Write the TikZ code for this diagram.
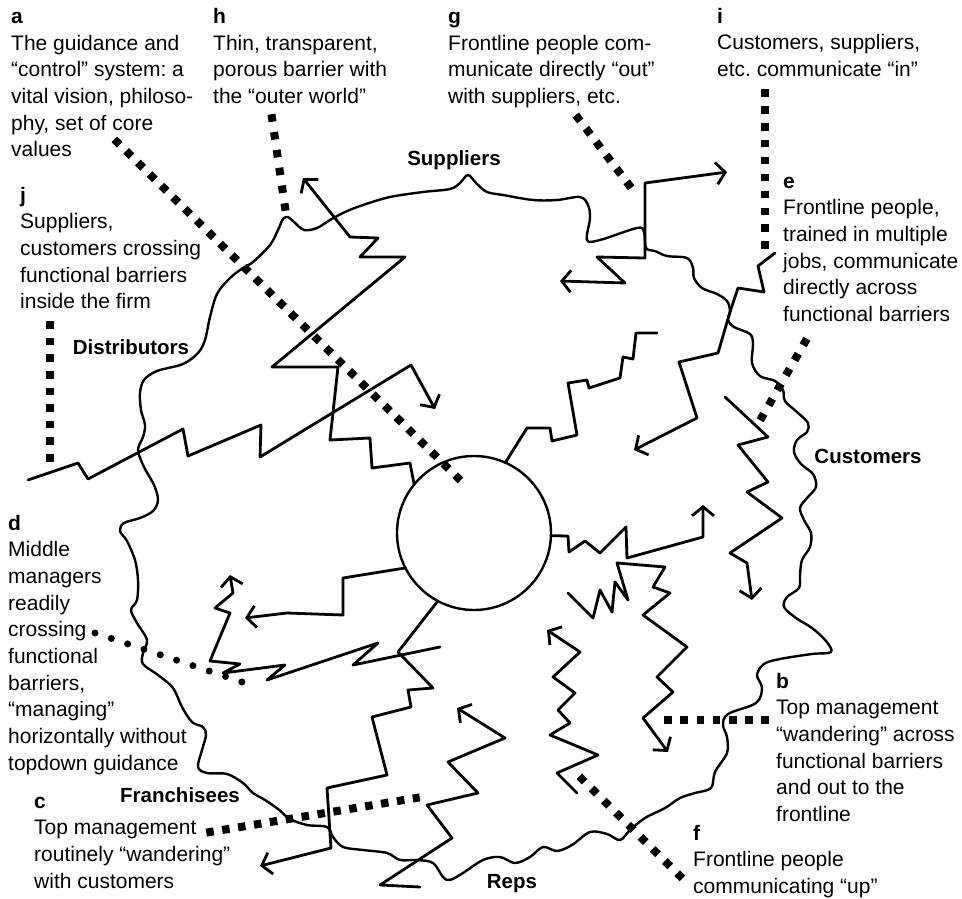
\documentclass[tikz,border=0pt]{standalone}
\usepackage{fontspec}
\setmainfont{Liberation Sans}
\usetikzlibrary{arrows.meta,calc}
\frenchspacing
% a row of square dots between two dot centres, #3 = gap between dots
\newcommand\leaderrow[3]{%
  \draw[line width=8pt, dash pattern=on 7.5pt off #3pt]
    ($(#1)!-3.75pt!(#2)$) -- ($(#2)!-3.75pt!(#1)$);}
\begin{document}
\begin{tikzpicture}[x=1pt,y=-1pt,
  wire/.style={line width=2.8pt, line join=round, line cap=round},
  tip/.style={-{Straight Barb[length=9pt,width=22pt]}},
  barrier/.style={line width=2.4pt},
  rdots/.style={line width=7pt, line cap=round, dash pattern=on 0pt off 17.2pt},
  % notes are placed by the baseline of their last line
  note/.style={anchor=base west, align=left, inner sep=0pt,
    font=\fontsize{21}{26.7}\selectfont},
  place/.style={anchor=base, inner sep=0pt,
    font=\fontsize{20.5}{24}\selectfont\bfseries}]
\useasboundingbox[fill=white] (0,0) rectangle (962,899);

% the firm's porous outer barrier
\draw[barrier] plot[smooth cycle, tension=0.55] coordinates {
 (468,175) (477,184) (487,192) (503,195) (533,200) (557,200) (580,197)
 (588,205) (590,218) (587,240) (600,240) (637,228) (644,232) (646,248)
 (655,251) (667,256) (687,258) (693,268) (694,278) (702,288) (717,294)
 (727,301) (730,311) (728,320) (734,327) (750,334) (753,344) (752,363)
 (760,376) (775,381) (783,390) (785,401) (797,412) (808,423) (807,432)
 (797,440) (794,452) (801,464) (813,474) (816,487) (807,498) (800,508)
 (804,520) (811,533) (810,547) (802,560) (800,575) (799,588) (787,597)
 (784,607) (796,618) (812,628) (826,641) (831,652) (812,654) (780,659)
 (764,664) (757,675) (762,688) (756,703) (728,714) (723,725) (727,737)
 (727,753) (715,772) (711,788) (695,793) (680,798) (665,808) (645,818)
 (630,830) (620,840) (607,834) (590,832) (572,845) (557,851) (543,847)
 (530,857) (515,863) (500,857) (483,860) (463,873) (450,880) (443,877)
 (433,863) (417,860) (400,860) (387,853) (363,850) (343,847) (333,837)
 (327,827) (307,825) (290,819) (278,809) (265,800) (253,793) (243,783)
 (227,774) (207,773) (198,767) (202,750) (206,735) (203,727) (192,722)
 (182,707) (173,688) (158,675) (143,664) (143,653) (147,640) (137,623)
 (131,610) (137,600) (138,580) (135,560) (127,541) (120,531) (124,523)
 (140,518) (153,511) (158,500) (154,485) (144,467) (138,450) (143,437)
 (145,425) (141,410) (140,393) (144,380) (157,371) (183,364) (198,353)
 (205,340) (210,317) (217,294) (230,278) (243,268) (253,262) (270,245)
 (278,230) (283,219) (288,217) (294,222) (304,230) (317,228) (330,220)
 (345,212) (363,205) (390,197) (423,192) (450,189) (460,183)};

% the guidance core
\node[circle, draw, line width=2.4pt, minimum size=154pt, inner sep=0pt,
  outer sep=0pt] (core) at (474,533) {};

% zigzag communication paths
\draw[wire, tip] (28,480) -- (78,463) -- (88,479) -- (183,429) -- (188,456)
  -- (261,425) -- (260,457) -- (411,365) -- (435,409);
\draw[wire, tip] (core.141) -- (410,463) -- (372,468) -- (370,438)
  -- (330,440) -- (338,367) -- (272,367) -- (405,257) -- (360,257)
  -- (378,238) -- (350,237) -- (303,178);
\draw[wire] (core.66) -- (527,428) -- (550,428) -- (552,441) -- (577,435)
  -- (568,383) -- (587,380) -- (589,388) -- (620,378) -- (623,357)
  -- (633,359) -- (636,333) -- (657,333);
\draw[wire, {Straight Barb[length=9pt,width=22pt]}-{Straight Barb[length=9pt,width=22pt]}]
  (560,281) -- (625,283) -- (597,257) -- (645,258) -- (645,183) -- (727,172);
\draw[wire, tip] (775,253) -- (758,266) -- (764,292) -- (738,288) -- (730,312)
  -- (718,353) -- (679,362) -- (697,418) -- (634,450);
\draw[wire, tip] (725,397) -- (768,437) -- (738,445) -- (768,482) -- (747,492)
  -- (782,518) -- (730,553) -- (747,563) -- (752,600);
\draw[wire, tip] (core.-2) -- (568,536) -- (569,552) -- (585,541) -- (600,553)
  -- (626,527) -- (627,558) -- (703,537) -- (703,505);
\draw[wire, tip] (568,593) -- (593,618) -- (600,590) -- (612,612) -- (615,582)
  -- (628,600) -- (617,563) -- (665,567) -- (653,587) -- (670,593)
  -- (643,615) -- (687,647) -- (657,677) -- (673,692) -- (643,718)
  -- (668,752);
\draw[wire, tip] (577,793) -- (557,773) -- (598,755) -- (550,735) -- (570,723)
  -- (558,710) -- (575,693) -- (553,677) -- (580,652) -- (547,630);
\draw[wire, tip] (core.242) -- (398,652) -- (433,688) -- (408,690) -- (411,707)
  -- (372,717) -- (387,775) -- (327,788) -- (331,848) -- (260,866);
\draw[wire, tip] (440,647) -- (353,665) -- (378,643) -- (267,680) -- (285,665)
  -- (223,673) -- (240,664) -- (210,661) -- (230,613) -- (215,608)
  -- (233,593) -- (230,575);
\draw[wire, tip] (core.207) -- (343,578) -- (343,615) -- (287,613) -- (245,618);
\draw[wire, tip] (420,887) -- (380,885) -- (452,838) -- (427,805) -- (478,793)
  -- (448,762) -- (505,738) -- (457,708);

% callout leaders (first and last dot centres)
\coordinate (la1) at (117,142); \coordinate (la2) at (458,478);
\coordinate (lh1) at (272,118); \coordinate (lh2) at (285,207);
\coordinate (lg1) at (578,118); \coordinate (lg2) at (629,185);
\coordinate (li1) at (765,93);  \coordinate (li2) at (765,245);
\coordinate (le1) at (805,342); \coordinate (le2) at (762,417);
\coordinate (lj1) at (50,325);  \coordinate (lj2) at (50,458);
\coordinate (ld1) at (95,633);  \coordinate (ld2) at (242,682);
\coordinate (lc1) at (210,832); \coordinate (lc2) at (416,798);
\coordinate (lb1) at (668,720); \coordinate (lb2) at (765,720);
\coordinate (lf1) at (582,779); \coordinate (lf2) at (680,876);
\leaderrow{la1}{la2}{9.0}
\leaderrow{lh1}{lh2}{10.5}
\leaderrow{lg1}{lg2}{9.3}
\leaderrow{li1}{li2}{9.4}
\leaderrow{le1}{le2}{9.8}
\leaderrow{lj1}{lj2}{9.1}
\draw[rdots] (ld1) -- (ld2);
\leaderrow{lc1}{lc2}{8.6}
\leaderrow{lb1}{lb2}{8.7}
\leaderrow{lf1}{lf2}{9.7}

% outside parties
\node[place] (sup) at (454,165) {Suppliers};
\node[place] (dis) at (131,354) {Distributors};
\node[place] (cus) at (868,463) {Customers};
\node[place] (fra) at (180,802) {Franchisees};
\node[place] (rep) at (512,888) {Reps};

% explanatory notes
\node[note] (na) at (11,156.8) {\textbf{a}\\The guidance and\\“control” system: a\\vital vision, philoso-\\phy, set of core\\values};
\node[note] (nh) at (213,103.4) {\textbf{h}\\Thin, transparent,\\porous barrier with\\the “outer world”};
\node[note] (ng) at (448,103.4) {\textbf{g}\\Frontline people com-\\municate directly “out”\\with suppliers, etc.};
\node[note] (ni) at (717,76.7) {\textbf{i}\\Customers, suppliers,\\etc. communicate “in”};
\node[note] (nj) at (20,308.8) {\textbf{j}\\Suppliers,\\customers crossing\\functional barriers\\inside the firm};
\node[note] (ne) at (783,321.5) {\textbf{e}\\Frontline people,\\trained in multiple\\jobs, communicate\\directly across\\functional barriers};
\node[note] (nd) at (8,770.3) {\textbf{d}\\Middle\\managers\\readily\\crossing\\functional\\barriers,\\“managing”\\horizontally without\\topdown guidance};
\node[note] (nc) at (34,888.1) {\textbf{c}\\Top management\\routinely “wandering”\\with customers};
\node[note] (nb) at (776,821.5) {\textbf{b}\\Top management\\“wandering” across\\functional barriers\\and out to the\\frontline};
\node[note] (nf) at (693,893.4) {\textbf{f}\\Frontline people\\communicating “up”};
\end{tikzpicture}
\end{document}
